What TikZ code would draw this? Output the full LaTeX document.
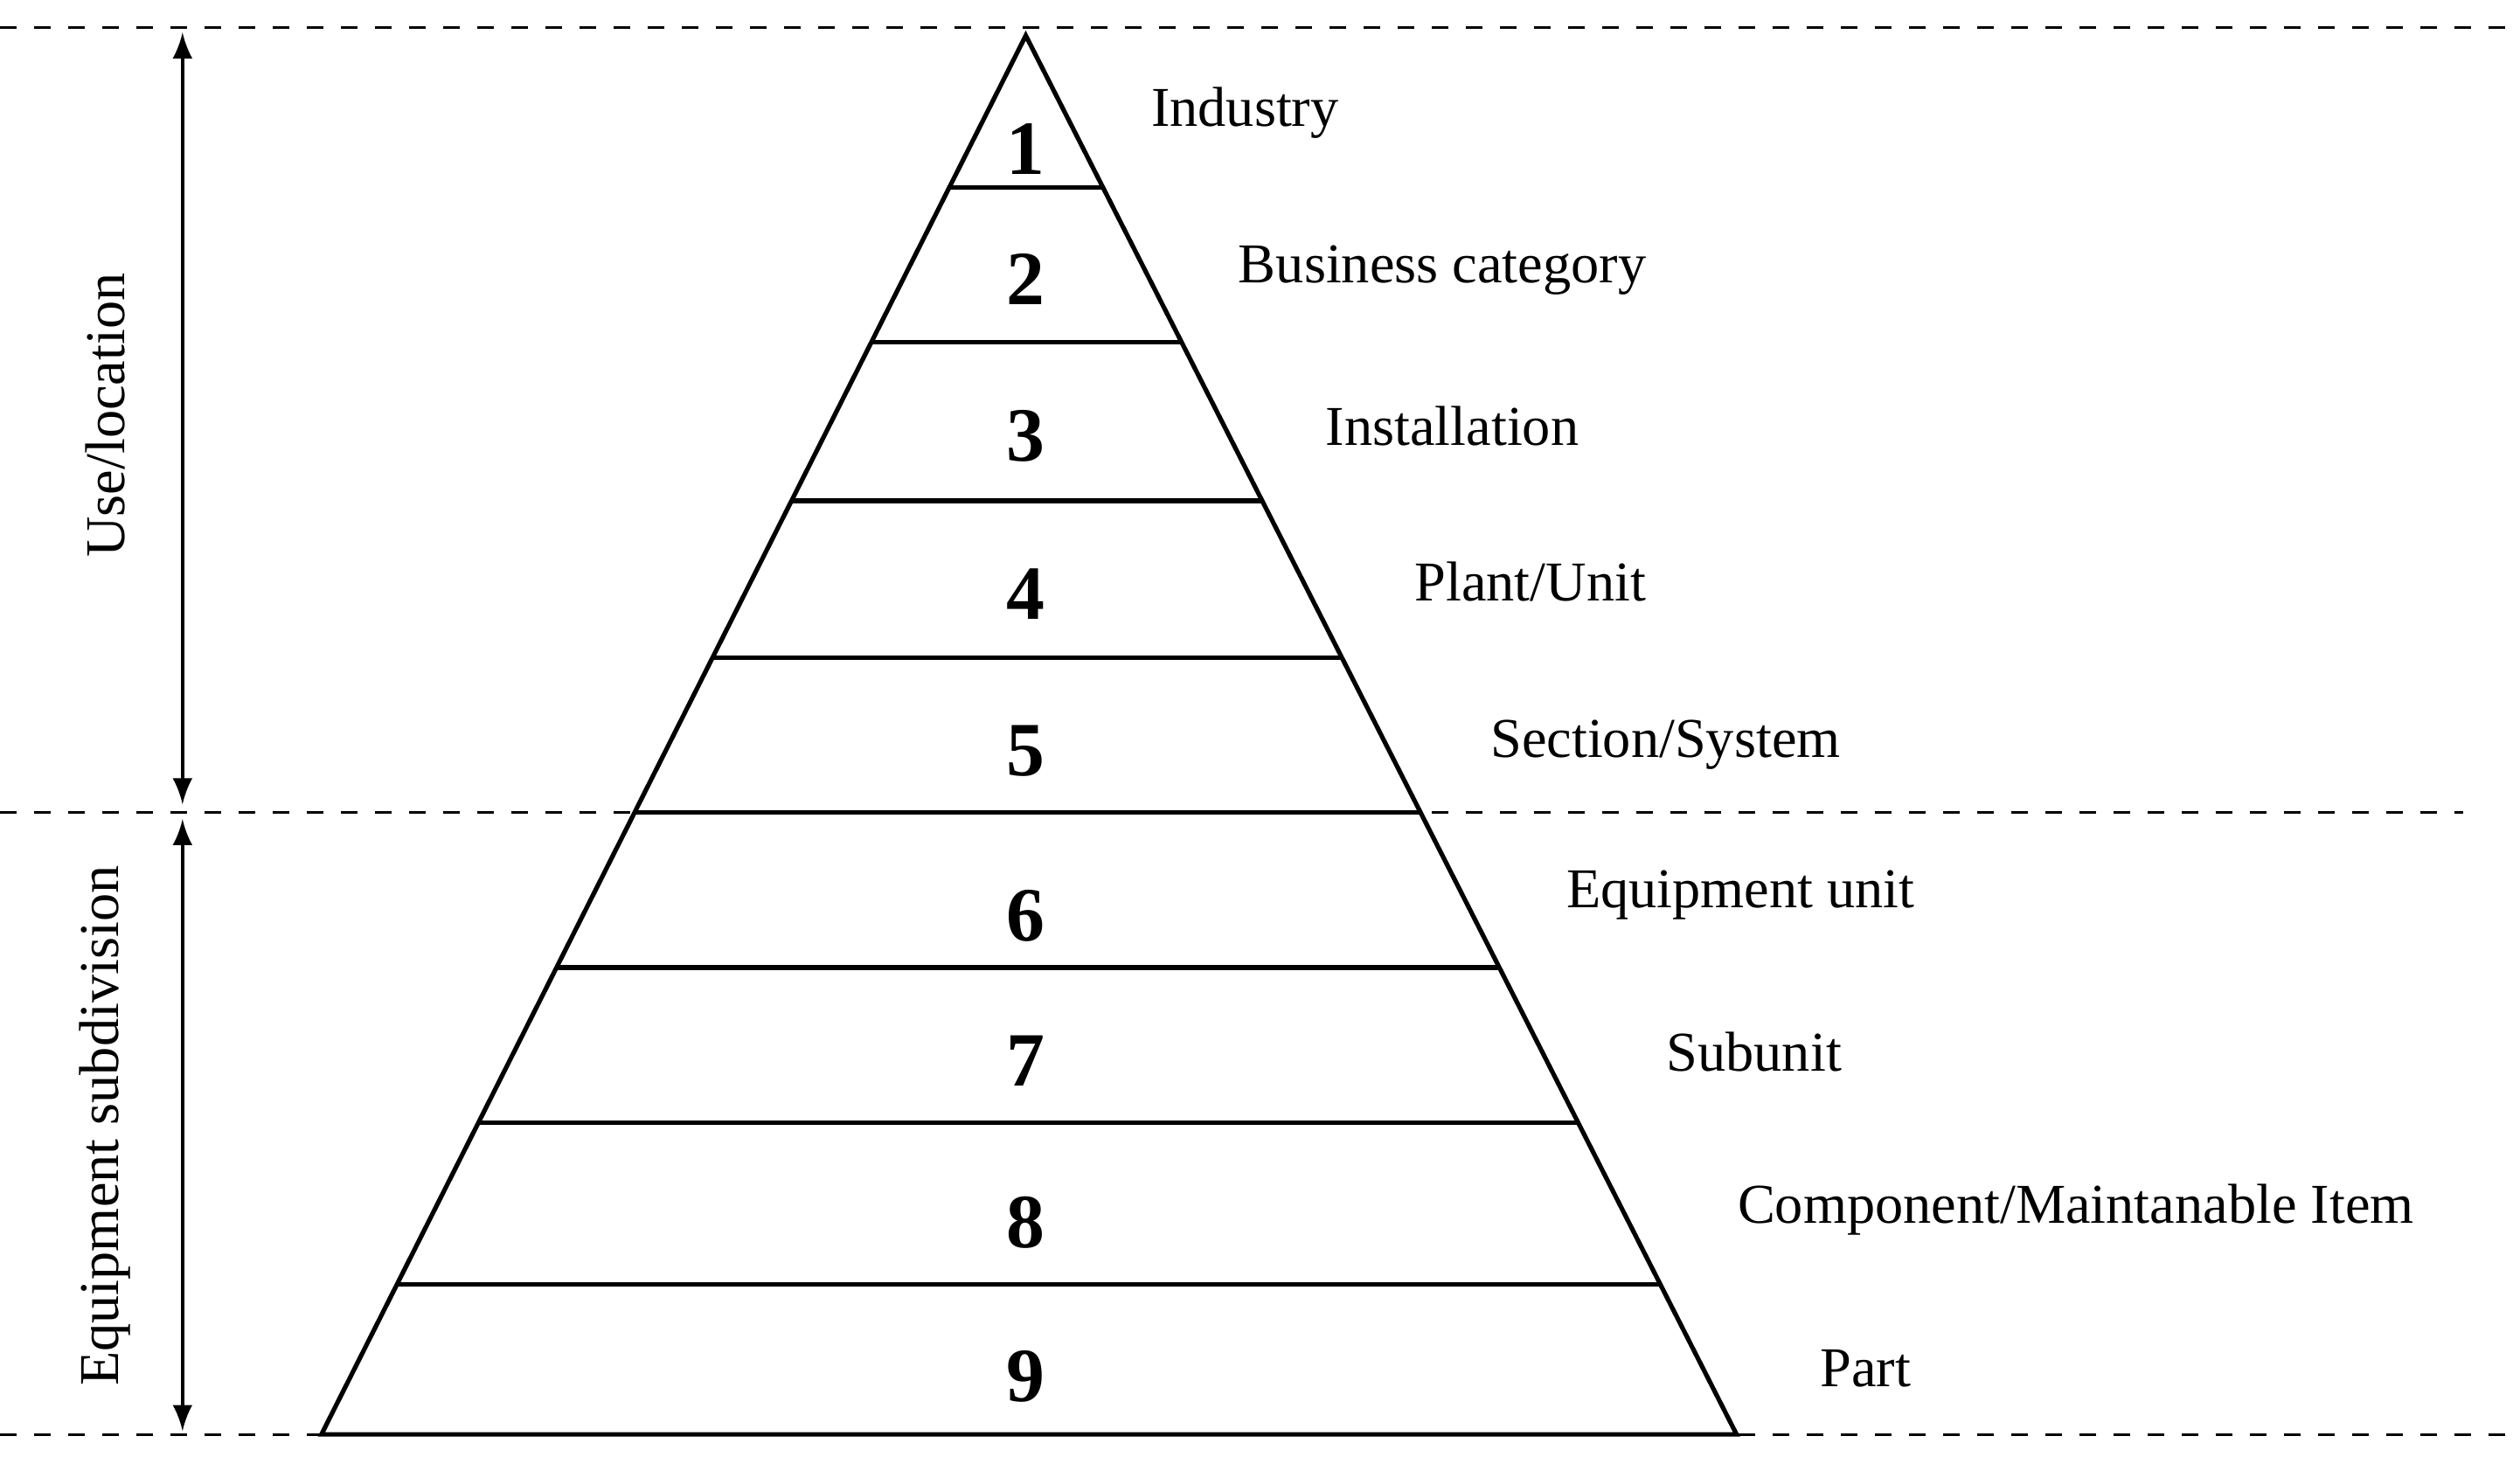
\documentclass[tikz,border=0pt]{standalone}
\usepackage{fontspec}
\setmainfont{Liberation Serif}
\usetikzlibrary{calc}
\begin{document}
\begin{tikzpicture}[x=0.01cm,y=-0.01cm,
  lbl/.style={anchor=west,font=\fontsize{9.9}{12}\selectfont,inner sep=0},
  num/.style={font=\bfseries\fontsize{13.5}{16}\selectfont,inner sep=0},
  side/.style={rotate=90,font=\fontsize{9.9}{12}\selectfont,inner sep=0},
  dline/.style={dashed,line width=0.5pt},
  edge/.style={line width=0.8pt}]
\useasboundingbox (0,0) rectangle (1560,902);
\coordinate (A) at (635,22);
\coordinate (BL) at (199,888);
\coordinate (BR) at (1075,888);
\draw[edge] (BL) -- (A) -- (BR) -- cycle;
\foreach \y in {116,212,310,407,503,599,695,795}{
  \draw[edge] ($(A)!{(\y-22)/866}!(BL)$) -- ($(A)!{(\y-22)/866}!(BR)$);
}
\draw[dline] (0,17) -- (1560,17);
\draw[dline] (0,503) -- (1525,503);
\draw[dline] (0,888) -- (1560,888);
\coordinate (a1) at (113,20); \coordinate (a2) at (113,498);
\coordinate (b1) at (113,507); \coordinate (b2) at (113,886);
\draw[<->,>=latex,line width=0.6pt] (a1) -- (a2);
\draw[<->,>=latex,line width=0.6pt] (b1) -- (b2);
\node[side] (s1) at (65,257) {Use/location};
\node[side] (s2) at (65,697) {Equipment subdivision};
\foreach \n/\y in {1/92,2/173,3/270,4/368,5/465,6/567,7/657,8/757,9/852}
  \node[num] (n\n) at (635,\y) {\n};
\node[lbl] (l1) at (712,70) {Industry};
\node[lbl] (l2) at (766,167) {Business category};
\node[lbl] (l3) at (820,264) {Installation};
\node[lbl] (l4) at (875,360) {Plant/Unit};
\node[lbl] (l5) at (922,461) {Section/System};
\node[lbl] (l6) at (969,554) {Equipment unit};
\node[lbl] (l7) at (1031,651) {Subunit};
\node[lbl] (l8) at (1075,749) {Component/Maintanable Item};
\node[lbl] (l9) at (1126,847) {Part};
\end{tikzpicture}
\end{document}
